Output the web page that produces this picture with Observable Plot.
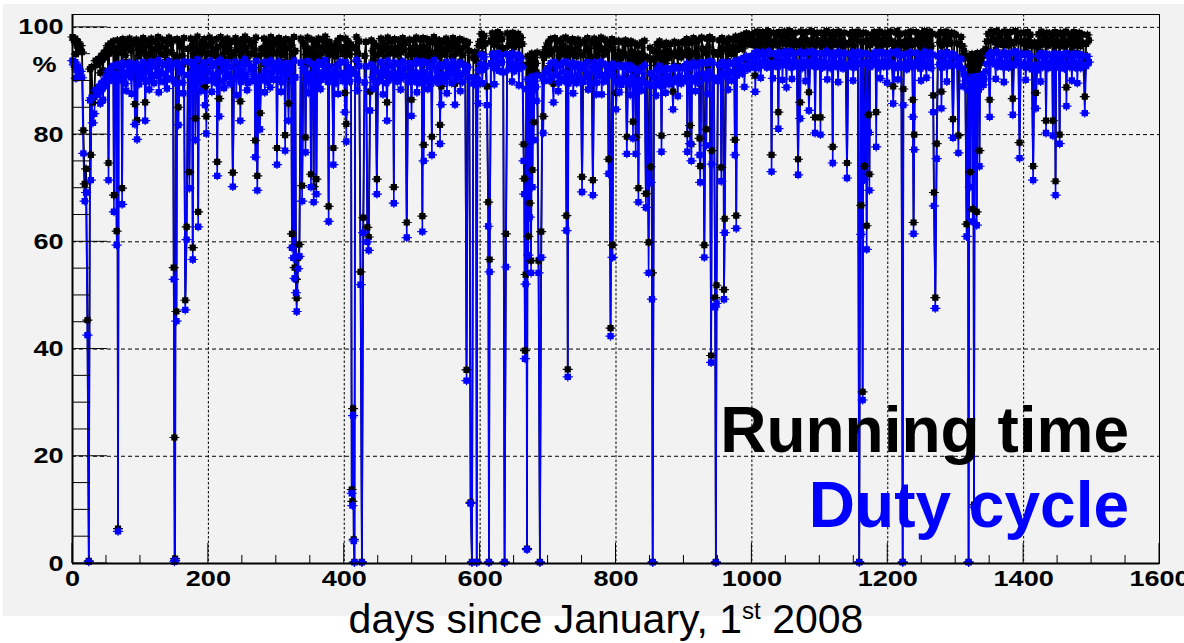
<!DOCTYPE html>
<html>
<head>
<meta charset="utf-8">
<script src="https://cdn.jsdelivr.net/npm/d3@7"></script>
<script src="https://cdn.jsdelivr.net/npm/@observablehq/plot@0.6"></script>
<style>
  html, body { margin: 0; padding: 0; background: #fff; }
  #chart { width: 1184px; height: 643px; overflow: hidden; }
</style>
</head>
<body>
<div id="chart"></div>
<script>
// Daily running time and duty cycle (%), days counted from January 1st 2008.
// Regular operation: one reading every bandStep days (rows of 100 days).
const bandStep = 2;
const runBand = [
  98.2,97.6,97.9,96.8,97.3,96.1,96.6,95.4,95.0,94.2,93.6,92.8,93.1,92.2,92.6,93.4,92.5,93.8,93.0,94.1,93.5,94.6,94.0,95.2,94.4,95.8,96.6,95.1,97.0,95.6,97.4,96.2,94.9,97.6,96.0,97.2,95.3,97.8,96.5,94.8,97.5,96.1,97.9,95.7,96.9,97.4,95.2,97.7,96.4,94.7,
  97.2,95.6,98.0,96.3,94.9,97.5,96.8,95.1,97.9,96.0,94.6,97.3,95.8,98.2,96.6,95.0,97.7,96.2,94.8,97.4,95.5,98.1,96.9,95.3,97.6,96.1,94.5,97.8,95.9,97.1,96.4,94.7,98.0,95.7,97.3,96.0,94.4,97.9,96.5,95.2,97.6,95.8,98.3,96.3,94.9,97.2,95.4,97.8,96.7,95.0,
  96.5,98.1,95.2,97.4,96.0,94.7,97.8,96.3,95.1,98.2,96.7,94.9,97.5,95.6,97.9,96.2,94.5,97.3,96.8,95.3,98.0,95.8,97.1,96.4,94.8,97.7,95.5,98.3,96.1,94.6,97.6,96.9,95.0,97.2,95.7,98.1,96.3,94.7,97.4,96.0,95.2,97.9,96.6,94.9,97.5,95.4,98.2,96.5,95.1,97.3,
  97.6,95.3,98.0,96.4,94.8,97.2,95.9,97.8,96.1,94.6,97.5,96.7,95.0,98.2,95.6,97.3,96.3,94.7,97.9,95.8,97.1,96.5,94.9,98.1,96.0,95.2,97.7,95.5,97.4,96.8,94.5,97.9,96.2,95.1,97.6,95.7,98.3,96.4,94.8,97.3,96.0,95.3,97.8,96.6,94.6,97.5,95.9,98.0,96.2,95.0,
  96.3,97.9,95.4,97.2,94.9,96.8,95.7,97.7,96.1,98.2,95.1,97.4,95.9,98.0,96.5,94.7,97.3,98.1,96.0,95.3,97.6,95.6,97.0,94.8,97.5,96.4,95.0,97.9,95.8,97.2,96.6,94.6,98.1,96.2,95.2,97.4,95.7,97.8,96.0,94.9,97.6,96.7,95.4,98.0,95.9,97.1,96.3,94.8,97.7,96.1,
  95.8,97.6,94.9,98.1,96.2,94.6,97.7,95.6,98.0,96.4,94.8,97.8,95.5,97.2,94.5,97.5,98.2,95.3,96.9,94.7,97.6,95.9,97.3,96.1,94.9,97.9,95.7,97.1,96.5,94.6,98.0,96.3,95.1,97.4,95.8,97.8,96.0,94.8,97.5,96.6,95.2,97.2,95.6,98.1,96.2,94.4,95.4,93.8,95.0,96.6,
  97.4,98.8,96.5,98.4,97.0,99.0,96.2,98.6,97.6,98.9,96.8,98.3,97.2,99.1,96.4,98.7,97.8,96.0,98.5,97.1,98.9,96.6,98.2,97.5,99.0,96.3,98.6,97.3,98.8,96.7,98.1,96.9,95.4,94.2,93.0,94.6,92.7,93.9,95.1,92.9,94.4,93.3,95.3,92.8,94.0,93.6,95.0,94.3,95.8,96.4,
  97.1,95.0,97.8,95.6,94.4,98.0,96.0,97.4,94.7,97.6,95.3,97.9,94.9,98.1,96.2,94.5,97.5,95.5,97.8,95.1,97.3,94.6,97.7,95.4,97.0,96.3,94.8,97.6,95.7,98.0,96.1,94.5,97.2,95.2,97.9,96.5,94.7,97.4,95.8,98.1,96.0,94.9,97.7,95.5,97.1,96.4,94.6,97.8,95.9,97.3,
  96.8,94.7,97.5,95.3,94.2,97.2,95.0,97.6,94.6,96.9,94.3,97.4,95.4,94.5,97.0,93.9,96.6,95.1,94.1,97.2,94.8,97.5,95.5,94.4,97.1,96.2,94.0,97.3,95.6,94.6,96.8,94.2,97.4,95.2,93.9,96.7,94.9,97.1,95.7,94.3,96.9,95.0,94.1,97.3,95.3,94.7,97.0,95.8,94.4,97.2,
  97.3,95.0,97.8,95.6,97.1,94.8,97.5,98.0,95.3,97.4,94.6,97.7,95.8,98.1,96.0,97.6,95.2,97.9,96.3,98.2,95.9,97.8,95.4,97.2,96.6,94.9,97.6,95.7,98.0,96.1,94.7,97.3,95.5,97.9,96.4,95.0,97.7,96.2,98.3,95.8,97.5,96.7,98.4,96.0,98.6,97.2,98.9,96.8,98.7,97.0,
  98.5,96.7,99.0,97.2,99.2,96.4,98.7,97.0,99.1,97.5,98.8,96.5,99.3,97.3,98.9,96.8,99.0,97.4,98.6,96.6,99.1,97.1,98.8,97.6,99.2,96.9,98.4,97.7,99.3,96.5,98.9,97.2,99.0,96.7,98.6,97.4,99.2,96.4,98.8,97.0,99.1,97.6,98.5,96.8,99.3,97.3,98.7,96.6,99.0,97.5,
  97.4,99.0,96.6,98.8,97.2,99.3,96.9,98.9,96.5,98.6,99.1,97.0,98.7,96.7,99.2,97.3,98.9,96.4,99.0,97.1,99.3,96.8,98.8,97.5,99.1,96.6,98.5,97.7,99.2,96.9,98.7,97.3,99.0,96.5,98.9,97.6,99.3,96.7,98.6,97.1,99.1,97.4,98.8,96.6,99.2,97.2,98.9,96.8,99.0,97.5,
  98.9,96.9,99.2,97.4,98.8,96.5,99.0,99.3,97.1,98.7,96.6,99.1,97.3,98.9,96.3,99.0,97.2,99.2,96.7,98.8,97.5,99.1,96.9,98.6,96.4,98.9,97.6,99.3,96.8,98.7,97.0,99.2,96.5,98.8,97.4,99.0,96.7,98.5,97.2,99.1,96.6,98.9,97.5,99.2,96.9,98.7,97.1,99.0,96.4,98.8,
  98.6,97.0,98.9,96.8,98.2,96.5,95.6,94.4,93.2,94.6,92.7,93.8,95.0,92.5,94.1,93.4,95.2,92.9,94.5,93.6,95.4,94.8,96.0,97.4,98.8,96.9,99.2,97.6,99.1,97.2,99.3,96.8,99.0,97.5,98.9,96.7,99.2,97.4,98.7,96.6,99.1,97.3,98.9,97.0,99.3,97.6,98.8,96.9,99.0,97.2,
  97.0,98.9,96.7,99.1,97.3,98.6,96.5,99.0,97.2,98.8,96.3,98.7,97.0,99.2,96.8,98.5,97.4,99.0,96.6,98.9,97.1,98.6,96.9,99.1,97.5,98.8,96.6,99.0,97.3,98.7,96.4,99.2,97.1,98.9,96.8,98.6,97.4,99.1,96.7,98.8,97.2,99.0,96.5,98.7,97.0,99.2,96.9,98.6,97.6
];
const dutyBand = [
  93.8,93.0,93.5,92.1,92.7,91.3,91.8,90.6,90.1,88.9,88.0,87.1,87.6,86.4,86.9,87.9,86.7,88.3,87.4,88.8,88.0,89.4,88.6,90.1,89.0,90.9,91.8,90.0,92.3,90.6,92.8,91.2,89.8,93.1,91.0,92.6,90.2,93.3,91.6,89.5,92.9,91.1,93.4,90.7,92.0,92.8,90.1,93.2,91.5,89.4,
  92.6,90.6,93.5,91.4,89.9,93.0,92.1,90.2,93.6,91.1,89.6,92.8,90.9,93.9,91.9,90.0,93.2,91.3,89.8,92.9,90.5,93.7,92.2,90.3,93.1,91.2,89.5,93.4,91.0,92.5,91.6,89.7,93.6,90.8,92.7,91.1,89.4,93.5,91.8,90.2,93.0,90.9,94.0,91.5,89.9,92.6,90.4,93.3,92.0,90.1,
  91.7,93.8,90.3,92.8,91.1,89.7,93.4,91.5,90.1,93.9,92.0,89.9,92.9,90.7,93.5,91.3,89.5,92.6,92.1,90.4,93.6,90.9,92.4,91.6,89.8,93.2,90.6,94.0,91.2,89.6,93.1,92.2,90.0,92.5,90.8,93.7,91.4,89.7,92.8,91.0,90.3,93.5,91.9,89.9,92.9,90.5,93.8,91.7,90.2,92.7,
  93.1,90.4,93.6,91.7,89.8,92.7,91.1,93.3,91.3,89.6,92.9,92.0,90.1,93.8,90.7,92.6,91.5,89.7,93.4,90.9,92.4,91.8,89.9,93.7,91.2,90.3,93.2,90.6,92.8,92.1,89.5,93.5,91.4,90.2,93.0,90.8,93.9,91.6,89.8,92.7,91.1,90.4,93.3,91.9,89.6,92.9,91.0,93.6,91.3,90.0,
  91.5,93.5,90.5,92.6,89.9,92.2,90.8,93.3,91.3,93.9,90.2,92.8,91.0,93.6,91.8,89.7,92.7,93.7,91.1,90.4,93.1,90.7,92.3,89.8,92.9,91.6,90.0,93.5,90.9,92.6,91.9,89.6,93.8,91.4,90.3,92.8,90.8,93.4,91.2,89.9,93.1,92.0,90.5,93.6,91.0,92.4,91.5,89.8,93.3,91.3,
  90.9,93.2,89.9,93.7,91.4,89.6,93.3,90.7,93.6,91.7,89.8,93.4,90.6,92.6,89.5,93.0,93.9,90.4,92.2,89.7,93.1,91.0,92.7,91.2,89.9,93.5,90.8,92.5,91.8,89.6,93.6,91.5,90.2,92.8,90.9,93.4,91.1,89.8,93.0,91.9,90.3,92.6,90.7,93.7,91.4,89.5,90.5,89.2,90.4,92.0,
  93.1,94.9,92.1,94.5,92.7,95.1,91.8,94.7,93.3,95.0,92.4,94.4,92.9,95.2,91.9,94.8,93.5,91.6,94.6,92.8,95.0,92.2,94.3,93.2,95.1,91.8,94.7,93.0,94.9,92.3,94.2,92.6,91.0,89.8,88.5,90.3,88.2,89.5,90.8,88.4,90.0,88.9,91.0,88.3,89.7,89.2,90.7,90.0,91.4,92.0,
  92.4,90.1,93.3,90.8,89.4,93.5,91.2,92.8,89.7,93.0,90.4,93.4,90.0,93.6,91.4,89.5,92.9,90.6,93.3,90.2,92.6,89.6,93.2,90.5,92.3,91.6,89.8,93.0,90.8,93.5,91.3,89.5,92.5,90.3,93.4,91.8,89.7,92.8,90.9,93.6,91.1,89.9,93.1,90.6,92.4,91.7,89.6,93.2,91.0,92.7,
  92.0,89.8,92.9,90.4,89.3,92.6,90.1,93.0,89.7,92.1,89.4,92.8,90.5,89.6,92.3,89.0,91.8,90.2,89.2,92.5,89.9,92.9,90.7,89.5,92.4,91.4,89.1,92.7,90.8,89.7,92.0,89.3,92.8,90.3,89.0,91.9,90.0,92.4,90.9,89.4,92.2,90.1,89.2,92.6,90.4,89.8,92.3,91.0,89.5,92.5,
  92.6,90.1,93.2,90.8,92.4,89.9,92.9,93.4,90.5,92.8,89.7,93.1,91.0,93.5,91.3,93.0,90.4,93.3,91.6,93.7,91.2,93.4,90.6,92.6,91.9,90.0,93.0,90.9,93.5,91.4,89.8,92.7,90.7,93.4,91.7,90.1,93.2,91.5,93.8,91.0,93.0,92.0,94.0,91.4,94.3,92.6,94.6,92.2,94.4,92.5,
  94.6,92.6,95.2,93.1,95.4,92.4,94.9,92.9,95.3,93.5,95.0,92.5,95.5,93.2,95.1,92.8,95.2,93.4,94.8,92.6,95.3,93.0,95.0,93.6,95.4,92.9,94.6,93.7,95.5,92.5,95.1,93.1,95.2,92.7,94.8,93.4,95.4,92.4,95.0,93.0,95.3,93.6,94.7,92.8,95.5,93.3,94.9,92.6,95.2,93.5,
  93.3,95.2,92.5,95.0,93.1,95.5,92.8,95.1,92.4,94.8,95.3,92.9,94.9,92.6,95.4,93.2,95.1,92.3,95.2,93.0,95.5,92.7,95.0,93.4,95.3,92.5,94.7,93.6,95.4,92.8,94.9,93.2,95.2,92.4,95.1,93.5,95.5,92.6,94.8,93.0,95.3,93.3,95.0,92.5,95.4,93.1,95.1,92.7,95.2,93.4,
  95.0,92.8,95.3,93.3,94.9,92.4,95.1,95.5,93.0,94.8,92.5,95.2,93.2,95.0,92.2,95.1,93.1,95.3,92.6,94.9,93.4,95.2,92.8,94.7,92.3,95.0,93.5,95.4,92.7,94.8,92.9,95.3,92.4,94.9,93.3,95.1,92.6,94.6,93.1,95.2,92.5,95.0,93.4,95.3,92.8,94.8,93.0,95.1,92.3,94.9,
  94.4,92.9,94.8,92.6,94.1,92.3,91.3,90.0,88.7,90.2,88.2,89.4,90.7,88.0,89.8,89.0,90.9,88.4,90.1,89.2,91.1,90.4,91.8,93.2,94.7,92.8,95.3,93.5,95.2,93.1,95.4,92.7,95.1,93.4,94.9,92.6,95.3,93.3,94.8,92.5,95.2,93.2,95.0,92.9,95.5,93.5,94.9,92.8,95.1,93.0,
  92.8,94.9,92.5,95.1,93.2,94.6,92.2,95.0,93.0,94.8,92.0,94.7,92.9,95.2,92.6,94.5,93.3,95.0,92.4,94.9,93.0,94.6,92.7,95.1,93.4,94.8,92.5,95.0,93.2,94.7,92.3,95.2,93.0,94.9,92.6,94.6,93.3,95.1,92.5,94.8,93.1,95.0,92.4,94.7,92.9,95.2,92.8,94.6,93.5
];

// Days with reduced operation or stops.
const dipDays = [
  16, 18, 20, 22, 24, 27, 30, 32, 53, 61, 65, 67, 73, 92, 95, 107, 149, 150, 151, 153, 156, 166, 168, 172, 177, 181, 185, 195, 197, 213, 216, 236, 247,
  269, 272, 276, 301, 313, 318, 323, 325, 327, 329, 330, 332, 334, 338, 343, 351, 355, 359, 377, 384, 401, 403, 411, 412, 413, 414, 415, 424, 426, 428,
  434, 436, 438, 448, 463, 473, 492, 499, 515, 517, 529, 541, 543, 563, 580, 586, 588, 595, 597, 610, 612, 613, 614, 636, 638, 664, 665, 666, 667, 669,
  671, 673, 675, 677, 679, 686, 688, 690, 693, 708, 727, 729, 750, 766, 779, 789, 792, 795, 800, 816, 825, 829, 833, 844, 848, 851, 853, 854, 867, 884,
  905, 909, 911, 923, 924, 930, 933, 940, 941, 946, 947, 948, 955, 959, 960, 975, 977, 1005, 1029, 1031, 1039, 1051, 1068, 1071, 1084, 1093, 1101, 1119,
  1140, 1158, 1161, 1163, 1166, 1169, 1172, 1173, 1183, 1208, 1222, 1223, 1237, 1238, 1239, 1267, 1268, 1270, 1272, 1279, 1296, 1304, 1316, 1319, 1321,
  1325, 1327, 1331, 1335, 1350, 1384, 1394, 1414, 1418, 1433, 1443, 1447, 1453, 1463, 1490
];
const dipRun = [
  80.8, 70.8, 73.6, 45.4, 0.5, 76.2, 86.0, 87.0, 74.7, 68.7, 62.0, 6.5, 70.0, 85.7, 82.7, 86.0, 55.2, 23.5, 0.9, 47.0, 85.1, 49.1, 62.8, 73.0, 58.9, 83.0, 65.6, 89.0, 83.4, 74.9, 86.7, 72.9, 86.2,
  78.9, 72.3, 84.0, 77.5, 79.9, 85.8, 61.5, 59.0, 55.2, 53.0, 49.5, 57.0, 59.5, 70.5, 79.5, 72.6, 70.3, 71.7, 66.6, 77.5, 87.8, 82.0, 13.8, 11.6, 28.9, 4.5, 0.3, 54.4, 0.3, 64.5,
  62.7, 60.9, 88.0, 71.7, 86.0, 70.2, 63.6, 86.5, 64.8, 78.1, 79.6, 81.8, 89.0, 89.5, 36.1, 11.4, 0.3, 0.3, 89.5, 89.0, 67.4, 0.3, 56.7, 0.3, 61.5, 78.2, 71.8, 39.7, 53.9, 2.8,
  61.0, 67.2, 56.5, 73.4, 82.3, 56.5, 0.3, 61.9, 83.4, 89.5, 64.9, 36.2, 72.1, 71.5, 91.0, 75.4, 43.9, 59.4, 87.8, 79.6, 82.4, 79.5, 70.0, 69.0, 59.9, 74.0, 54.2, 0.3, 79.8, 88.0,
  80.1, 81.7, 78.2, 79.3, 74.1, 59.4, 81.0, 38.8, 77.0, 49.6, 0.3, 51.9, 73.9, 51.1, 64.3, 79.0, 64.9, 91.0, 76.2, 94.5, 84.2, 93.5, 75.4, 86.0, 87.9, 83.2, 83.2, 77.7,
  74.7, 0.3, 66.8, 32.0, 74.1, 63.0, 83.7, 72.6, 84.2, 89.0, 0.3, 88.5, 86.5, 63.6, 80.0, 87.3, 69.2, 49.6, 78.3, 88.0, 82.9, 79.8, 63.3, 0.3, 73.0,
  66.1, 11.0, 65.6, 77.0, 86.5, 86.7, 78.5, 74.1, 87.8, 82.6, 82.6, 71.3, 80.0, 88.8, 87.1
];
const dipDuty = [
  76.5, 67.6, 69.2, 42.6, 0.3, 71.5, 82.2, 83.9, 71.5, 65.6, 59.4, 6.0, 67.0, 81.9, 79.1, 82.6, 53.0, 0.3, 0.6, 45.2, 81.8, 47.3, 60.4, 70.0, 56.7, 79.0, 62.8, 85.5, 80.2, 72.3, 83.4, 70.3, 82.6,
  75.8, 69.6, 81.0, 74.4, 77.0, 82.6, 58.9, 57.0, 53.2, 50.5, 47.0, 55.0, 57.3, 67.6, 76.7, 70.2, 67.4, 68.9, 63.8, 74.4, 84.2, 78.7, 13.1, 10.8, 27.6, 4.2, 0.2, 52.0, 0.2, 61.7,
  60.0, 58.4, 84.5, 68.9, 82.6, 67.2, 60.8, 83.5, 61.9, 75.1, 76.2, 78.3, 85.6, 85.6, 34.1, 11.2, 0.2, 0.2, 85.8, 85.5, 62.9, 0.2, 54.4, 0.2, 55.3, 75.1, 68.9, 38.2, 52.1, 2.6,
  57.5, 64.6, 54.2, 70.2, 79.0, 54.2, 0.2, 57.1, 80.3, 86.0, 62.1, 34.8, 69.3, 68.7, 87.5, 72.7, 42.4, 57.1, 84.7, 76.4, 79.3, 76.4, 67.4, 66.4, 54.2, 71.1, 49.3, 0.2, 76.8, 84.7,
  76.8, 78.3, 75.1, 76.2, 71.1, 57.1, 78.0, 37.5, 74.5, 47.8, 0.2, 48.5, 71.3, 49.3, 61.7, 76.2, 62.5, 88.0, 73.1, 90.5, 81.1, 88.8, 72.5, 83.0, 84.5, 80.3, 80.0, 74.7,
  71.9, 0.2, 61.4, 30.5, 71.6, 58.6, 80.4, 69.6, 77.7, 85.8, 0.2, 85.5, 83.3, 61.5, 77.2, 84.2, 66.7, 47.6, 75.5, 84.9, 79.4, 76.6, 61.0, 0.2, 70.2,
  63.8, 10.5, 63.1, 74.1, 83.3, 83.7, 75.6, 71.5, 84.9, 80.3, 79.8, 68.7, 78.3, 85.3, 84.0
];

// Short losses that only nick the band.
const nickDays = [
  5, 41, 45, 79, 87, 113, 127, 139, 163, 189, 205, 223, 241, 257, 283, 291, 307, 347, 365, 391, 419, 443, 457, 483, 507, 523, 551, 571,
  603, 621, 647, 657, 683, 715, 737, 759, 771, 805, 821, 837, 859, 873, 891, 917, 935, 965, 989, 1013, 1045, 1059, 1079, 1111, 1127,
  1149, 1189, 1199, 1215, 1249, 1257, 1287, 1311, 1341, 1359, 1371, 1403, 1425, 1471, 1479
];
const nickRun = [
  95.0, 91.5, 92.0, 93.5, 93.0, 93.8, 93.2, 94.0, 93.1, 93.6, 93.4, 93.9, 93.0, 93.7, 93.2, 94.1, 93.5, 93.3, 93.8, 93.1, 93.6, 93.9, 93.0, 93.7, 93.4, 93.8, 93.1, 93.6,
  95.0, 94.8, 95.2, 94.6, 91.6, 93.5, 93.2, 93.8, 93.0, 93.4, 93.1, 93.6, 92.9, 93.3, 92.8, 93.5, 93.0, 93.7, 94.2, 95.9, 95.6, 95.8, 95.4, 95.7, 95.3,
  95.6, 95.8, 95.2, 95.7, 95.5, 95.9, 95.4, 94.6, 94.9, 95.8, 95.3, 95.7, 95.4, 95.6, 95.2
];
const nickDuty = [
  90.5, 85.8, 86.5, 88.2, 87.6, 88.4, 87.9, 88.6, 87.7, 88.1, 88.0, 88.7, 87.4, 88.3, 87.9, 88.8, 88.0, 87.8, 88.5, 87.6, 88.2, 88.6, 87.5, 88.4, 87.9, 88.5, 87.7, 88.1,
  89.6, 89.4, 89.9, 89.2, 86.3, 88.1, 87.7, 88.4, 87.5, 87.9, 87.4, 88.2, 87.3, 87.8, 87.2, 88.1, 87.6, 88.4, 88.9, 90.6, 90.2, 90.4, 90.0, 90.3, 89.8,
  90.1, 90.5, 89.7, 90.3, 90.1, 90.6, 89.9, 89.0, 89.3, 90.4, 89.8, 90.2, 89.9, 90.1, 89.6
];

// Axis ticks and gridlines
const yTicks = [0, 20, 40, 60, 80, 100];
const yMinorTicks = [5, 10, 15, 25, 30, 35, 45, 50, 55, 65, 70, 75, 85, 90, 95];
const xTicks = [0, 200, 400, 600, 800, 1000, 1200, 1400, 1600];
const xMinorTicks = [50, 100, 150, 250, 300, 350, 450, 500, 550, 650, 700, 750, 850, 900, 950,
                     1050, 1100, 1150, 1250, 1300, 1350, 1450, 1500, 1550];
const yGrid = [20, 40, 60, 80, 100];
const xGrid = [200, 400, 600, 800, 1000, 1200, 1400];

// One table: regular readings merged with the listed dips, in day order.
const dipSet = new Set(dipDays);
const rows = [];
const nBand = Math.min(runBand.length, dutyBand.length);
for (let i = 0; i < nBand; i++) {
  const day = i * bandStep;
  if (!dipSet.has(day)) rows.push({day, run: runBand[i], duty: dutyBand[i]});
}
dipDays.forEach((day, i) => rows.push({day, run: dipRun[i], duty: dipDuty[i]}));
nickDays.forEach((day, i) => rows.push({day, run: nickRun[i], duty: nickDuty[i]}));
rows.sort((a, b) => a.day - b.day);

// Square marker with short horizontal and vertical whiskers
const markSym = {
  draw(ctx, size) {
    const s = Math.sqrt(size), h = s / 2;
    ctx.rect(-h, -h, s, s);
    ctx.rect(-0.8 * s, -0.6, 1.6 * s, 1.2);
    ctx.rect(-0.6, -0.7 * s, 1.2, 1.4 * s);
  }
};

const FONT = "'Liberation Sans', Arial, Helvetica, sans-serif";
const BLUE = "#0000ff";

const chart = Plot.plot({
  width: 1184,
  height: 643,
  marginLeft: 72,
  marginRight: 25,
  marginTop: 14,
  marginBottom: 80,
  style: {background: "white", fontFamily: FONT, overflow: "hidden"},
  x: {domain: [0, 1600], axis: null},
  y: {domain: [0, 102.4], axis: null},
  marks: [
    Plot.ruleY(yGrid, {y: d => d, stroke: "#000", strokeWidth: 1, strokeDasharray: "4,3"}),
    Plot.ruleX(xGrid, {x: d => d, stroke: "#000", strokeWidth: 1, strokeDasharray: "2.5,2"}),
    Plot.line(rows, {x: "day", y: "run", stroke: "#000", strokeWidth: 1.8}),
    Plot.line(rows, {x: "day", y: "duty", stroke: BLUE, strokeWidth: 1.6}),
    Plot.dot(rows, {x: "day", y: "run", symbol: markSym, r: 3.5, fill: "#000", stroke: "none"}),
    Plot.dot(rows, {x: "day", y: "duty", symbol: markSym, r: 3.6, fill: BLUE, stroke: "none"}),
    Plot.frame({stroke: "#000", strokeWidth: 1}),
    Plot.ruleX([0], {x: d => d, stroke: "#000", strokeWidth: 2}),
    Plot.ruleY([0], {y: d => d, stroke: "#000", strokeWidth: 2}),
    Plot.text(yTicks, {y: d => d, text: d => String(d), frameAnchor: "left", textAnchor: "end",
      dx: -9, fontSize: 22, fontWeight: "bold", fill: "#000"}),
    Plot.text(xTicks, {x: d => d, text: d => String(d), frameAnchor: "bottom", lineAnchor: "top",
      dy: 7, fontSize: 22, fontWeight: "bold", fill: "#000"}),
    Plot.text(["%"], {frameAnchor: "top-left", text: d => d, textAnchor: "middle", lineAnchor: "middle",
      dx: -28, dy: 50, fontSize: 22, fontWeight: "bold", fill: "#000"})
  ]
});

const svg = d3.select(chart);
const sx = chart.scale("x"), sy = chart.scale("y");

// Tick labels are drawn wide (the only text in the plot so far)
svg.selectAll("text").each(function () {
  const tr = this.getAttribute("transform");
  if (tr) {
    this.setAttribute("transform", tr + " scale(1.23,1)");
  } else {
    const tx = +this.getAttribute("x") || 0, ty = +this.getAttribute("y") || 0;
    this.removeAttribute("x");
    this.removeAttribute("y");
    this.setAttribute("transform", `translate(${tx},${ty}) scale(1.23,1)`);
  }
});

// Grey canvas behind the plot
svg.insert("rect", ":first-child")
  .attr("x", 3).attr("y", 4).attr("width", 1181).attr("height", 612)
  .attr("fill", "#f2f2f2");

// Inward ticks
const tickG = svg.append("g").attr("stroke", "#000").attr("stroke-width", 1);
const x0 = sx.apply(0), y0 = sy.apply(0);
for (const v of yTicks) tickG.append("line").attr("x1", x0).attr("x2", x0 + 35).attr("y1", sy.apply(v)).attr("y2", sy.apply(v));
for (const v of yMinorTicks) tickG.append("line").attr("x1", x0).attr("x2", x0 + 18).attr("y1", sy.apply(v)).attr("y2", sy.apply(v));
for (const v of xTicks) tickG.append("line").attr("x1", sx.apply(v)).attr("x2", sx.apply(v)).attr("y1", y0).attr("y2", y0 - 20);
for (const v of xMinorTicks) tickG.append("line").attr("x1", sx.apply(v)).attr("x2", sx.apply(v)).attr("y1", y0).attr("y2", y0 - 8);

// Series names
svg.append("text").attr("x", 1129).attr("y", 452).attr("text-anchor", "end")
  .attr("font-family", FONT).attr("font-weight", "bold").attr("font-size", 64)
  .attr("fill", "#000").text("Running time");
svg.append("text").attr("x", 1129).attr("y", 527).attr("text-anchor", "end")
  .attr("font-family", FONT).attr("font-weight", "bold").attr("font-size", 64)
  .attr("fill", BLUE).text("Duty cycle");

// Axis title
const xt = svg.append("text").attr("x", 606).attr("y", 633).attr("text-anchor", "middle")
  .attr("font-family", FONT).attr("font-size", 41).attr("fill", "#000");
xt.append("tspan").text("days since January, 1");
xt.append("tspan").attr("font-size", 24).attr("dy", -14).text("st");
xt.append("tspan").attr("dy", 14).text(" 2008");

document.getElementById("chart").append(chart);
</script>
</body>
</html>
